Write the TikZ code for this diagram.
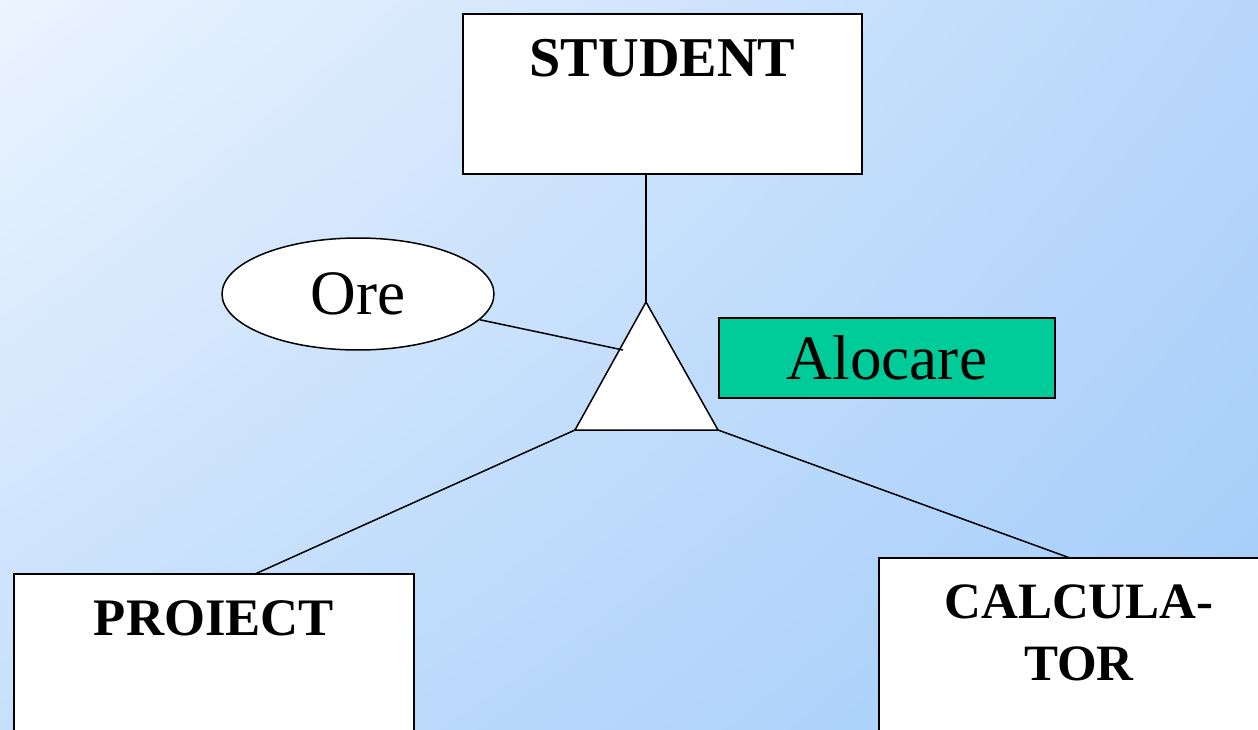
\documentclass[tikz,border=0pt]{standalone}
\usepackage{fontspec}
\setmainfont{Liberation Serif}
\usetikzlibrary{shapes.geometric,shadings}
\definecolor{bgTL}{RGB}{236,244,254}
\definecolor{bgTR}{RGB}{184,215,251}
\definecolor{bgBL}{RGB}{198,224,252}
\definecolor{bgBR}{RGB}{162,204,250}
\definecolor{relfill}{RGB}{0,204,153}
\tikzset{
  entity/.style={draw=black, fill=white, line width=0.85pt, rectangle, inner sep=0pt},
  enttext/.style={font=\fontsize{32}{36}\selectfont\bfseries, align=center, inner sep=0pt},
  attr/.style={draw=black, fill=white, line width=0.85pt, ellipse, inner sep=0pt,
    minimum width=5.44cm, minimum height=2.24cm, font=\fontsize{36}{40}\selectfont},
  relbox/.style={draw=black, fill=relfill, line width=0.85pt, rectangle, inner sep=0pt,
    minimum width=6.72cm, minimum height=1.6cm, font=\fontsize{36}{40}\selectfont},
  link/.style={draw=black, line width=0.85pt}
}
\begin{document}
\begin{tikzpicture}[x=0.02cm, y=-0.02cm]
  \useasboundingbox (0,0) rectangle (1258,730);
  \clip (0,0) rectangle (1258,730);
  \shade[upper left=bgTL, upper right=bgTR, lower left=bgBL, lower right=bgBR]
    (0,0) rectangle (1258,730);

  % entity boxes
  \node[entity, minimum width=7.98cm, minimum height=3.2cm] (student) at (662.5,94) {};
  \node[entity, minimum width=8cm, minimum height=4cm] (proiect) at (214,674) {};
  \node[entity, minimum width=8cm, minimum height=4cm] (calc) at (1079,658) {};
  \node[enttext] (tstudent) at (662.5,58) {STUDENT};
  \node[enttext, font=\fontsize{30}{34}\selectfont\bfseries] (tproiect) at (214,618) {PROIECT};
  \node[enttext, font=\fontsize{29}{35.2}\selectfont\bfseries] (tcalc) at (1079,633) {CALCULA-\\TOR};

  % relationship triangle
  \coordinate (apex) at (646,302);
  \coordinate (bl) at (575,430);
  \coordinate (br) at (718,430);
  \draw[link, fill=white, line join=miter] (apex) -- (bl) -- (br) -- cycle;

  % attribute and relationship name
  \node[attr] (ore) at (358,294) {Ore};
  \node[relbox] (aloc) at (887,358) {Alocare};

  % connectors
  \coordinate (orej) at (623,350);
  \coordinate (sj) at (646,174);
  \coordinate (pj) at (255,574);
  \coordinate (cj) at (1070,558);
  \draw[link] (sj) -- (apex);
  \draw[link] (ore) -- (orej);
  \draw[link] (bl) -- (pj);
  \draw[link] (br) -- (cj);
\end{tikzpicture}
\end{document}
